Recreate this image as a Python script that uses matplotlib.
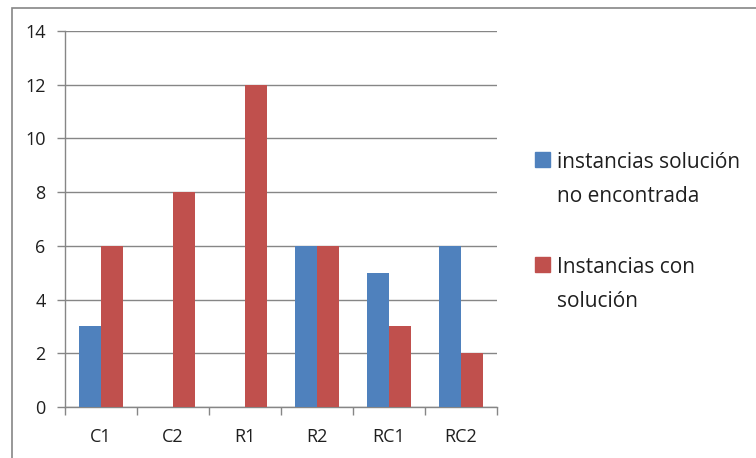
import numpy as np
import matplotlib.pyplot as plt
from matplotlib.patches import Rectangle

plt.rcParams['font.family'] = ['Open Sans', 'DejaVu Sans']

# instance groups and counts per group
grupos = ['C1', 'C2', 'R1', 'R2', 'RC1', 'RC2']
sin_solucion = [3, 0, 0, 6, 5, 6]
con_solucion = [6, 8, 12, 6, 3, 2]
yticks = [0, 2, 4, 6, 8, 10, 12, 14]
etiquetas = ['instancias solución\nno encontrada', 'Instancias con\nsolución']

azul = '#4F81BD'
rojo = '#C0504D'
gris = '#868686'
texto = '#1f1f1f'

W, H = 756, 458
fig = plt.figure(figsize=(W / 100, H / 100), dpi=100)
ax = fig.add_axes([65 / W, 1 - 407 / H, (497 - 65) / W, (407 - 31) / H])

x = np.arange(len(grupos))
ancho = 0.3
ax.bar(x - ancho / 2, sin_solucion, ancho, color=azul, zorder=3)
ax.bar(x + ancho / 2, con_solucion, ancho, color=rojo, zorder=3)

ax.set_xlim(-0.5, len(grupos) - 0.5)
ax.set_ylim(0, 14)
ax.set_yticks(yticks)
ax.yaxis.grid(True, color=gris, linewidth=1)
ax.set_axisbelow(True)

# category labels in the middle, ticks on the boundaries
ax.set_xticks(x)
ax.set_xticklabels(grupos, fontsize=13, color=texto)
ax.tick_params(axis='x', length=0, pad=15)
ax.set_xticks(np.arange(len(grupos) + 1) - 0.5, minor=True)
ax.tick_params(axis='x', which='minor', length=6, color=gris, width=1)
ax.tick_params(axis='y', length=6, color=gris, width=1, labelsize=13,
               labelcolor=texto, pad=8)

for s in ['top', 'right']:
    ax.spines[s].set_visible(False)
for s in ['left', 'bottom']:
    ax.spines[s].set_color(gris)
    ax.spines[s].set_linewidth(1)

# legend: square aligned with the first line, text lines placed by baseline
cuadro = 15
for color, label, base in zip([azul, rojo], etiquetas, [168, 273]):
    fig.patches.append(Rectangle((535 / W, 1 - (base - 1) / H), cuadro / W,
                                 cuadro / H, transform=fig.transFigure,
                                 color=color))
    for i, linea in enumerate(label.split('\n')):
        fig.text(557 / W, 1 - (base + 34 * i) / H, linea, fontsize=15,
                 color=texto, va='baseline', ha='left')

# chart area border
fig.patches.append(Rectangle((12 / W, -0.1), 1.2, 1.1 - 8 / H,
                             transform=fig.transFigure, fill=False,
                             edgecolor=gris, linewidth=1.2))

fig.savefig('out.png', dpi=100)
